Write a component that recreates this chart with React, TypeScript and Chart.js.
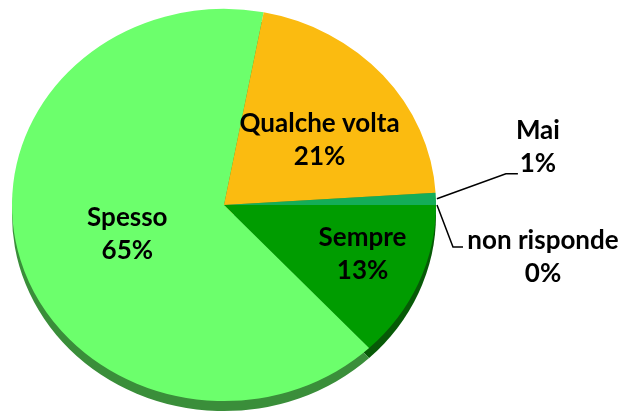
import React, { useEffect, useRef } from "react";
import { Chart, registerables } from "chart.js";

Chart.register(...registerables);

const categories = ["Sempre", "Spesso", "Qualche volta", "Mai", "non risponde"];
const values = [13, 65, 21, 1, 0];
const percentLabels = ["13%", "65%", "21%", "1%", "0%"];
const faceColors = ["#009c00", "#6cff6c", "#fbbb10", "#14ad58", "#4a7ebb"];
const sideColors = ["#075a07", "#3a8e3a", "#b3850a", "#0c7a3c", "#2a5080"];

// inside labels: radial factor and angular nudge (degrees); null = outside label
const insideFactor = [0.7, 0.48, 0.56, null, null];
const insideNudge = [-2.4, -2, 5, 0, 0];

const SQUASH = 0.925;
const DEPTH = 10;
const FONT = "bold 26px Lato, Calibri, 'Open Sans', sans-serif";

function wedge(ctx: CanvasRenderingContext2D, x: number, y: number, r: number, a0: number, a1: number) {
  ctx.beginPath();
  ctx.moveTo(x, y);
  ctx.arc(x, y, r, a0, a1);
  ctx.closePath();
}

const pie3d = {
  id: "pie3d",
  beforeDatasetsDraw(chart: any) {
    const ctx: CanvasRenderingContext2D = chart.ctx;
    const meta = chart.getDatasetMeta(0);
    const first = meta.data[0];
    const cx = first.x;
    const cy = first.y;
    ctx.save();
    ctx.translate(cx, cy);
    ctx.scale(1, SQUASH);
    ctx.translate(-cx, -cy);
    const off = DEPTH / SQUASH;
    meta.data.forEach((arc: any, i: number) => {
      if (arc.endAngle - arc.startAngle <= 0) return;
      ctx.fillStyle = sideColors[i];
      wedge(ctx, cx, cy + off, arc.outerRadius, arc.startAngle, arc.endAngle);
      ctx.fill();
    });
  },
  afterDatasetsDraw(chart: any) {
    chart.ctx.restore();
  },
};

const labelsPlugin = {
  id: "pieLabels",
  afterDraw(chart: any) {
    const ctx: CanvasRenderingContext2D = chart.ctx;
    const meta = chart.getDatasetMeta(0);
    ctx.save();
    ctx.font = FONT;
    ctx.fillStyle = "#000";
    ctx.textAlign = "center";
    ctx.textBaseline = "middle";
    const lineGap = 16.5;
    meta.data.forEach((arc: any, i: number) => {
      const cx = arc.x;
      const cy = arc.y;
      const r = arc.outerRadius;
      const f = insideFactor[i];
      if (f !== null) {
        const mid = (arc.startAngle + arc.endAngle) / 2 + (insideNudge[i] * Math.PI) / 180;
        const lx = cx + Math.cos(mid) * r * f;
        const ly = cy + Math.sin(mid) * r * f * SQUASH;
        ctx.fillText(categories[i], lx, ly - lineGap);
        ctx.fillText(percentLabels[i], lx, ly + lineGap);
      } else {
        const mid = (arc.startAngle + arc.endAngle) / 2;
        const ax = cx + Math.cos(mid) * (r + 1);
        const ay = cy + Math.sin(mid) * (r + 1) * SQUASH;
        const up = arc.endAngle - arc.startAngle > 0;
        let ex: number, ey: number, hx: number, tx: number, ty: number;
        if (up) {
          ex = ax + 69;
          ey = ay - 25;
          hx = ex + 12;
          tx = hx + 20;
          ty = ey - 27;
        } else {
          ex = ax + 16;
          ey = ay + 42;
          hx = ex + 10;
          tx = hx + 80;
          ty = ey + 10;
        }
        ctx.strokeStyle = "#000";
        ctx.lineWidth = 1.5;
        ctx.beginPath();
        ctx.moveTo(ax, ay);
        ctx.lineTo(ex, ey);
        ctx.lineTo(hx, ey);
        ctx.stroke();
        ctx.fillText(categories[i], tx, ty - lineGap);
        ctx.fillText(percentLabels[i], tx, ty + lineGap);
      }
    });
    ctx.restore();
  },
};

export default function App() {
  const ref = useRef<HTMLCanvasElement>(null);
  useEffect(() => {
    if (!ref.current) return;
    const chart = new Chart(ref.current, {
      type: "pie",
      data: {
        labels: categories,
        datasets: [
          {
            data: values,
            backgroundColor: faceColors,
            borderWidth: 0,
          },
        ],
      },
      options: {
        responsive: false,
        animation: false,
        rotation: 90,
        layout: { padding: { left: 12, right: 186, top: 3, bottom: 13 } },
        plugins: {
          legend: { display: false },
          tooltip: { enabled: false },
          title: { display: false },
        },
      },
      plugins: [pie3d, labelsPlugin],
    });
    return () => chart.destroy();
  }, []);
  return (
    <div style={{ position: "fixed", left: 0, top: 0, width: 622, height: 419, overflow: "hidden", background: "#fff" }}>
      <canvas ref={ref} width={622} height={440} style={{ position: "absolute", left: 0, top: -10, width: 622, height: 440 }} />
    </div>
  );
}
